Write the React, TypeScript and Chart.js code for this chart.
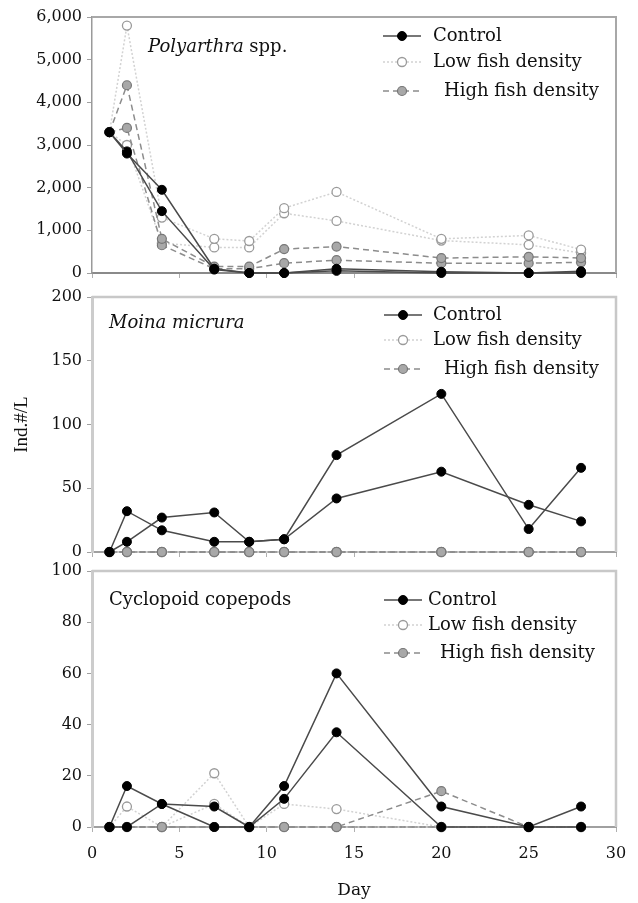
import React, { useEffect, useRef } from 'react';
import { Chart, registerables } from 'chart.js';

Chart.register(...registerables);

// ---------- data ----------
const days = [1, 2, 4, 7, 9, 11, 14, 20, 25, 28];

// Polyarthra spp.
const polyControlA = [3300, 2800, 1950, 100, 0, 0, 100, 30, 0, 0];
const polyControlB = [3300, 2850, 1450, 80, 0, 0, 50, 0, 0, 40];
const polyLowA = [3300, 5800, 1300, 800, 750, 1520, 1900, 800, 880, 550];
const polyLowB = [3300, 3000, 700, 600, 600, 1400, 1220, 760, 660, 470];
const polyHighA = [3300, 4400, 800, 150, 150, 560, 620, 350, 380, 350];
const polyHighB = [3300, 3400, 650, 100, 100, 230, 300, 230, 230, 250];

// Moina micrura
const moinaControlA = [0, 8, 27, 31, 8, 10, 76, 124, 18, 66];
const moinaControlB = [0, 32, 17, 8, 8, 10, 42, 63, 37, 24];
const moinaLowA = [0, 0, 0, 0, 0, 0, 0, 0, 0, 0];
const moinaLowB = [0, 0, 0, 0, 0, 0, 0, 0, 0, 0];
const moinaHighA = [0, 0, 0, 0, 0, 0, 0, 0, 0, 0];
const moinaHighB = [0, 0, 0, 0, 0, 0, 0, 0, 0, 0];

// Cyclopoid copepods
const cycloControlA = [0, 16, 9, 0, 0, 16, 60, 8, 0, 8];
const cycloControlB = [0, 0, 9, 8, 0, 11, 37, 0, 0, 0];
const cycloLowA = [0, 8, 0, 21, 0, 9, 7, 0, 0, 0];
const cycloLowB = [0, 0, 0, 9, 0, 0, 0, 0, 0, 0];
const cycloHighA = [0, 0, 0, 0, 0, 0, 0, 14, 0, 0];
const cycloHighB = [0, 0, 0, 0, 0, 0, 0, 0, 0, 0];

const legendLabels = ['Control', 'Low fish density', 'High fish density'];
const xTitle = 'Day';
const yTitle = 'Ind.#/L';

// ---------- layout / style ----------
const W = 638;
const H = 903;
const PLOT_LEFT = 92;
const PLOT_RIGHT = 616;
const SERIF = '"DejaVu Serif", serif';

const CONTROL = {
  borderColor: '#4a4a4a', borderWidth: 1.5,
  pointBackgroundColor: '#000', pointBorderColor: '#000', pointBorderWidth: 1, pointRadius: 4.5,
};
const LOW = {
  borderColor: '#d2d2d2', borderWidth: 1.5, borderDash: [2, 2],
  pointBackgroundColor: '#fff', pointBorderColor: '#9a9a9a', pointBorderWidth: 1.3, pointRadius: 4.5,
};
const HIGH = {
  borderColor: '#8c8c8c', borderWidth: 1.5, borderDash: [6, 4],
  pointBackgroundColor: '#a8a8a8', pointBorderColor: '#777', pointBorderWidth: 1.2, pointRadius: 4.5,
};
const STYLES = [CONTROL, LOW, HIGH];

type Part = { text: string; italic: boolean };
type Panel = {
  top: number; bottom: number; yMax: number; yStep: number; comma: boolean;
  series: number[][]; // controlA, controlB, lowA, lowB, highA, highB
  label: Part[]; labelX: number; labelY: number;
  legMarkX: number; legTextX: number; legHighTextX: number; legRows: number[];
  axisColor: string; axisWidth: number; zeroColor: string; zeroWidth: number;
  frameColor: string; frameWidth: number;
};

const PANELS: Panel[] = [
  {
    top: 17, bottom: 273, yMax: 6000, yStep: 1000, comma: true,
    series: [polyControlA, polyControlB, polyLowA, polyLowB, polyHighA, polyHighB],
    label: [{ text: 'Polyarthra', italic: true }, { text: ' spp.', italic: false }],
    labelX: 148, labelY: 47,
    legMarkX: 402, legTextX: 433, legHighTextX: 444, legRows: [36, 62, 91],
    axisColor: '#9a9a9a', axisWidth: 1.5, zeroColor: '#8a8a8a', zeroWidth: 2,
    frameColor: '#a8a8a8', frameWidth: 2,
  },
  {
    top: 297, bottom: 552, yMax: 200, yStep: 50, comma: false,
    series: [moinaControlA, moinaControlB, moinaLowA, moinaLowB, moinaHighA, moinaHighB],
    label: [{ text: 'Moina micrura', italic: true }],
    labelX: 109, labelY: 323,
    legMarkX: 403, legTextX: 433, legHighTextX: 444, legRows: [315, 340, 369],
    axisColor: '#cccccc', axisWidth: 3, zeroColor: '#a0a0a0', zeroWidth: 2,
    frameColor: '#c8c8c8', frameWidth: 2.5,
  },
  {
    top: 571, bottom: 827, yMax: 100, yStep: 20, comma: false,
    series: [cycloControlA, cycloControlB, cycloLowA, cycloLowB, cycloHighA, cycloHighB],
    label: [{ text: 'Cyclopoid copepods', italic: false }],
    labelX: 109, labelY: 600,
    legMarkX: 403, legTextX: 428, legHighTextX: 440, legRows: [600, 625, 653],
    axisColor: '#cccccc', axisWidth: 3, zeroColor: '#a0a0a0', zeroWidth: 2,
    frameColor: '#c8c8c8', frameWidth: 2.5,
  },
];

function ds(values: number[], style: any, label: string) {
  return {
    label,
    data: days.map((d, i) => ({ x: d, y: values[i] })),
    tension: 0,
    clip: false as const,
    ...style,
  };
}

function panelPlugin(p: Panel) {
  return {
    id: 'panelDeco',
    beforeDatasetsDraw(chart: any) {
      const { ctx, chartArea: a } = chart;
      ctx.save();
      ctx.strokeStyle = p.frameColor;
      ctx.lineWidth = p.frameWidth;
      ctx.beginPath();
      ctx.moveTo(a.left, a.top);
      ctx.lineTo(a.right, a.top);
      ctx.lineTo(a.right, a.bottom);
      ctx.stroke();
      ctx.restore();
    },
    afterDraw(chart: any) {
      const { ctx } = chart;
      ctx.save();
      // panel label
      ctx.fillStyle = '#111';
      ctx.textBaseline = 'middle';
      ctx.textAlign = 'left';
      let x = p.labelX;
      for (const part of p.label) {
        ctx.font = `${part.italic ? 'italic ' : ''}18px ${SERIF}`;
        ctx.fillText(part.text, x, p.labelY);
        x += ctx.measureText(part.text).width;
      }
      // legend
      legendLabels.forEach((lab, i) => {
        const st: any = STYLES[i];
        const y = p.legRows[i];
        const mx = p.legMarkX;
        ctx.save();
        ctx.strokeStyle = st.borderColor;
        ctx.lineWidth = st.borderWidth;
        ctx.setLineDash(st.borderDash || []);
        ctx.beginPath();
        ctx.moveTo(mx - 19, y);
        ctx.lineTo(mx + 19, y);
        ctx.stroke();
        ctx.setLineDash([]);
        ctx.beginPath();
        ctx.arc(mx, y, st.pointRadius, 0, Math.PI * 2);
        ctx.fillStyle = st.pointBackgroundColor;
        ctx.fill();
        ctx.lineWidth = st.pointBorderWidth;
        ctx.strokeStyle = st.pointBorderColor;
        ctx.stroke();
        ctx.restore();
        ctx.font = `18px ${SERIF}`;
        ctx.fillStyle = '#111';
        ctx.fillText(lab, i === 2 ? p.legHighTextX : p.legTextX, y);
      });
      ctx.restore();
    },
  };
}

function makeChart(canvas: HTMLCanvasElement, p: Panel, idx: number) {
  const isLast = idx === PANELS.length - 1;
  const isMid = idx === 1;
  const s = p.series;
  const datasets = [
    ds(s[0], CONTROL, 'Control'),
    ds(s[1], CONTROL, 'Control'),
    ds(s[4], HIGH, 'High fish density'),
    ds(s[5], HIGH, 'High fish density'),
    ds(s[2], LOW, 'Low fish density'),
    ds(s[3], LOW, 'Low fish density'),
  ];
  const xHeight = isLast ? H - p.bottom : 0;
  return new Chart(canvas, {
    type: 'line',
    data: { datasets },
    options: {
      animation: false,
      responsive: false,
      maintainAspectRatio: false,
      events: [],
      layout: {
        padding: { left: 0, right: W - PLOT_RIGHT, top: p.top, bottom: isLast ? 0 : H - p.bottom },
      },
      plugins: {
        legend: { display: false },
        tooltip: { enabled: false },
        title: { display: false },
      },
      scales: {
        x: {
          type: 'linear',
          min: 0,
          max: 30,
          afterFit(scale: any) {
            scale.height = xHeight;
            scale.paddingLeft = 0;
            scale.paddingRight = 0;
          },
          grid: { drawOnChartArea: false, drawTicks: true, tickLength: 5, color: '#b0b0b0', lineWidth: 1 },
          border: { display: true, color: p.zeroColor, width: p.zeroWidth },
          ticks: {
            display: isLast,
            stepSize: 5,
            autoSkip: false,
            maxRotation: 0,
            padding: 12,
            color: '#111',
            font: { family: SERIF, size: 16 },
          },
          title: {
            display: isLast,
            text: xTitle,
            color: '#111',
            font: { family: SERIF, size: 17 },
            padding: { top: 0, bottom: 2 },
          },
        },
        y: {
          type: 'linear',
          min: 0,
          max: p.yMax,
          afterFit(scale: any) {
            scale.width = PLOT_LEFT;
            scale.paddingTop = 0;
            scale.paddingBottom = 0;
          },
          grid: { drawOnChartArea: false, drawTicks: true, tickLength: 5, color: '#a0a0a0', lineWidth: 1 },
          border: { display: true, color: p.axisColor, width: p.axisWidth },
          ticks: {
            stepSize: p.yStep,
            padding: 5,
            color: '#111',
            font: { family: SERIF, size: 16 },
            callback: (v: any) => (p.comma ? Number(v).toLocaleString('en-US') : String(v)),
          },
          title: {
            display: isMid,
            text: yTitle,
            color: '#111',
            font: { family: '"Liberation Serif", serif', size: 19 },
            padding: { top: 11, bottom: 0 },
          },
        },
      },
    },
    plugins: [panelPlugin(p)],
  } as any);
}

export default function App() {
  const refs = useRef<(HTMLCanvasElement | null)[]>([]);
  useEffect(() => {
    const charts = PANELS.map((p, i) => makeChart(refs.current[i] as HTMLCanvasElement, p, i));
    return () => charts.forEach((c) => c.destroy());
  }, []);
  return (
    <div style={{ position: 'absolute', left: 0, top: 0, width: W, height: H, background: '#fff' }}>
      {PANELS.map((_, i) => (
        <canvas
          key={i}
          ref={(el) => { refs.current[i] = el; }}
          width={W}
          height={H}
          style={{ position: 'absolute', left: 0, top: 0, width: W, height: H }}
        />
      ))}
    </div>
  );
}
